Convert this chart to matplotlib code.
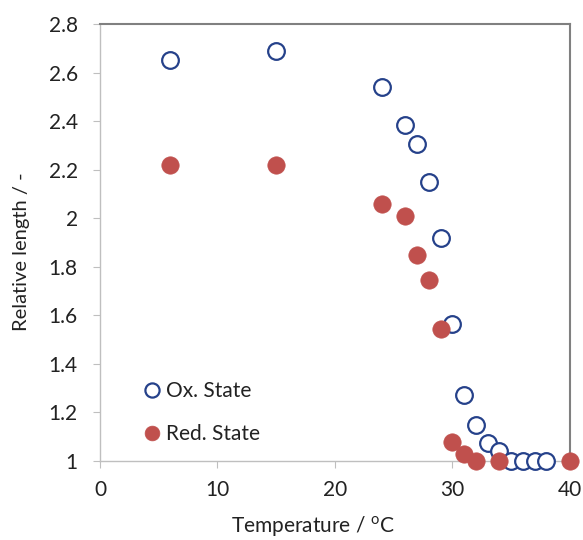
import matplotlib.pyplot as plt

plt.rcParams['font.family'] = ['Lato', 'DejaVu Sans']
plt.rcParams['mathtext.fontset'] = 'custom'
plt.rcParams['mathtext.rm'] = 'Lato'

# data
temp_ox = [6, 15, 24, 26, 27, 28, 29, 30, 31, 32, 33, 34, 35, 36, 37, 38]
len_ox = [2.65, 2.69, 2.54, 2.385, 2.305, 2.15, 1.92, 1.565, 1.27, 1.15, 1.075, 1.04, 1.0, 1.0, 1.0, 1.0]

temp_red = [6, 15, 24, 26, 27, 28, 29, 30, 31, 32, 34, 40]
len_red = [2.22, 2.22, 2.06, 2.01, 1.85, 1.745, 1.545, 1.08, 1.03, 1.0, 1.0, 1.0]

x_ticks = [0, 10, 20, 30, 40]
y_ticks = [1, 1.2, 1.4, 1.6, 1.8, 2, 2.2, 2.4, 2.6, 2.8]
y_ticklabels = ['1', '1.2', '1.4', '1.6', '1.8', '2', '2.2', '2.4', '2.6', '2.8']

fig = plt.figure(figsize=(5.83, 5.40), dpi=100)
ax = fig.add_axes([0.1715, 0.1463, 0.8062, 0.8093])

ax.plot(temp_ox, len_ox, 'o', ms=12, mfc='white', mec='#25418A', mew=1.6,
        label='Ox. State', clip_on=False, zorder=3)
ax.plot(temp_red, len_red, 'o', ms=12.5, mfc='#C0504D', mec='#C0504D', mew=0.5,
        label='Red. State', clip_on=False, zorder=4)

ax.set_xlim(0, 40)
ax.set_ylim(1, 2.8)
ax.set_xticks(x_ticks)
ax.set_yticks(y_ticks)
ax.set_yticklabels(y_ticklabels)
ax.tick_params(direction='out', length=5, color='#BFBFBF', labelsize=15,
               labelcolor='#222222')
ax.tick_params(axis='y', pad=11)
ax.tick_params(axis='x', pad=9)

for s in ['left', 'bottom']:
    ax.spines[s].set_color('#BFBFBF')
    ax.spines[s].set_linewidth(1.0)
for s in ['top', 'right']:
    ax.spines[s].set_color('#808080')
    ax.spines[s].set_linewidth(1.5)

ax.set_xlabel('Temperature / $^{\\rm o}$C', fontsize=15, color='#222222')
ax.set_ylabel('Relative length / -', fontsize=14.5, color='#222222')
ax.xaxis.set_label_coords(0.453, -0.151)
ax.xaxis.label.set_va('center')
ax.yaxis.set_label_coords(-0.166, 0.48)
ax.yaxis.label.set_va('center')

leg = ax.legend(loc='lower left', bbox_to_anchor=(0.044, -0.004), frameon=False,
                fontsize=15, markerscale=0.85, handletextpad=0.1,
                handlelength=1.2, labelspacing=1.1)
for t in leg.get_texts():
    t.set_color('#222222')

fig.savefig('out.png', dpi=100)
